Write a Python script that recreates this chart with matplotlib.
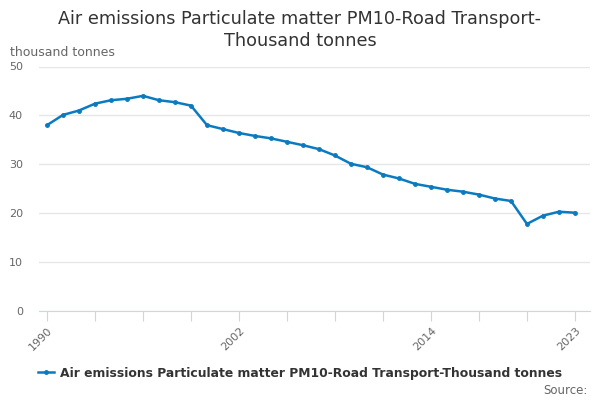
import numpy as np
import matplotlib.pyplot as plt

years = list(range(1990, 2024))
values = [38.0, 40.1, 41.0, 42.4, 43.1, 43.4, 44.0, 43.1, 42.7, 42.0,
          38.0, 37.2, 36.4, 35.8, 35.3, 34.6, 33.9, 33.1, 31.8, 30.1,
          29.4, 27.9, 27.1, 26.0, 25.4, 24.8, 24.4, 23.8, 23.0, 22.5,
          17.8, 19.5, 20.3, 20.1]
tick_years = list(range(1990, 2024, 3))
label_years = [1990, 2002, 2014, 2023]
series_name = "Air emissions Particulate matter PM10-Road Transport-Thousand tonnes"

line_color = '#0b7bc1'

fig = plt.figure(figsize=(6, 4), dpi=100)
ax = fig.add_axes([39 / 600, 89 / 400, 551 / 600, 244.5 / 400])

ax.plot(years, values, color=line_color, lw=1.8, marker='o', ms=2.5,
        label=series_name)

ax.set_xlim(1989.5, 2023.94)
ax.set_ylim(0, 50)
ax.set_yticks([0, 10, 20, 30, 40, 50])
ax.yaxis.grid(True, color='#e6e6e6', lw=1)
ax.set_axisbelow(True)

ax.set_xticks(tick_years)
ax.set_xticklabels([str(y) if y in label_years else '' for y in tick_years],
                   rotation=45, ha='right', rotation_mode='anchor')
ax.tick_params(axis='x', length=7, color='#ccd6eb',
               labelsize=8, labelcolor='#666666', pad=3)
ax.tick_params(axis='y', length=0, labelsize=8, labelcolor='#666666', pad=11.5)

for s in ['top', 'right', 'left']:
    ax.spines[s].set_visible(False)
ax.spines['bottom'].set_color('#ccd6eb')

fig.text(0.5, 1 - 19 / 400, "Air emissions Particulate matter PM10-Road Transport-",
         ha='center', va='center', fontsize=12.7, color='#333333')
fig.text(0.5, 1 - 41 / 400, "Thousand tonnes",
         ha='center', va='center', fontsize=12.7, color='#333333')
fig.text(10 / 600, 1 - 52 / 400, "thousand tonnes", ha='left', va='center',
         fontsize=9, color='#666666')

fig.legend(loc='center', bbox_to_anchor=(0.5, 1 - 373 / 400), frameon=False,
           prop={'weight': 'bold', 'size': 8.9}, handlelength=1.3,
           handletextpad=0.5, labelcolor='#333333')
fig.text(588 / 600, 1 - 390 / 400, "Source:", ha='right', va='center',
         fontsize=8.5, color='#666666')

fig.savefig('out.png')
